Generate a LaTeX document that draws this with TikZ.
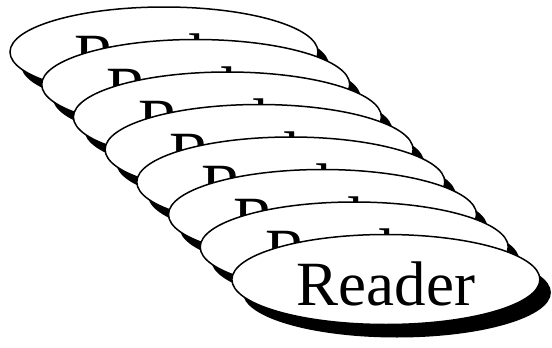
\documentclass[tikz,border=0pt]{standalone}
\usepackage{fontspec}
\setmainfont{Liberation Serif}
\usetikzlibrary{shapes.geometric,shadows}

\tikzset{
  reader/.style={ellipse,draw=black,line width=1.5pt,fill=white,
    minimum width=308pt,minimum height=90pt,inner sep=0pt,
    text height=52pt,font=\fontsize{63}{63}\selectfont,
    drop shadow={shadow xshift=11pt,shadow yshift=-13pt,opacity=1,fill=black}}
}

\begin{document}
\begin{tikzpicture}[x=1pt,y=-1pt]
    \useasboundingbox (0,0) rectangle (552,348);

    % Stack of readers, back to front
    \node[reader] (r1) at (164.0,52.0)  {Reader};
    \node[reader] (r2) at (195.7,84.5)  {Reader};
    \node[reader] (r3) at (227.4,117.0) {Reader};
    \node[reader] (r4) at (259.1,149.5) {Reader};
    \node[reader] (r5) at (290.8,182.0) {Reader};
    \node[reader] (r6) at (322.5,214.5) {Reader};
    \node[reader] (r7) at (354.2,247.0) {Reader};
    \node[reader] (r8) at (385.9,279.5) {Reader};
\end{tikzpicture}
\end{document}
